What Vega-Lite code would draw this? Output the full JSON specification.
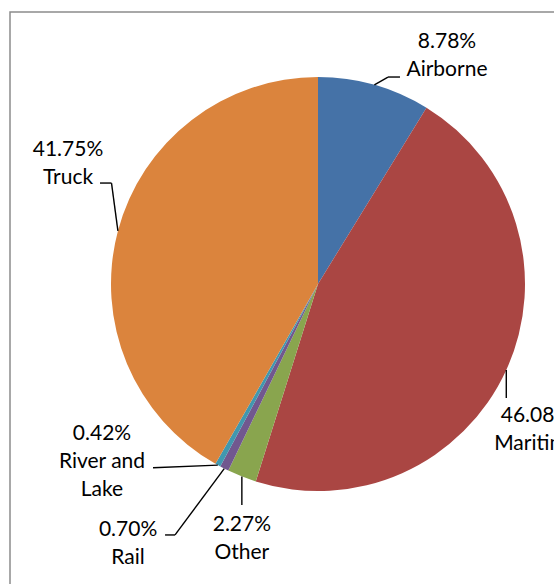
{
  "$schema": "https://vega.github.io/schema/vega-lite/v6.json",
  "width": 616,
  "height": 600,
  "autosize": {"type": "none"},
  "padding": {"left": 10, "top": 12, "right": 0, "bottom": 0},
  "background": "white",
  "config": {
    "view": {"stroke": "#8c8c8c", "strokeWidth": 1.5},
    "text": {"font": "Lato", "fontSize": 21, "lineHeight": 28, "color": "#000000", "align": "center", "baseline": "middle"},
    "rule": {"color": "#000000", "strokeWidth": 1.4}
  },
  "data": {
    "values": [
      {"mode": "Airborne", "share": 8.78},
      {"mode": "Maritime", "share": 46.08},
      {"mode": "Other", "share": 2.27},
      {"mode": "Rail", "share": 0.70},
      {"mode": "River and Lake", "share": 0.42},
      {"mode": "Truck", "share": 41.75}
    ]
  },
  "transform": [
    {"window": [{"op": "sum", "field": "share", "as": "cum"}], "sort": [{"field": "mode", "order": "ascending"}], "frame": [null, 0]},
    {"calculate": "(datum.cum - datum.share / 2) / 100 * 2 * PI", "as": "mid"},
    {"calculate": "207 * sin(datum.mid)", "as": "ex"},
    {"calculate": "207 * cos(datum.mid)", "as": "ey"},
    {"calculate": "format(datum.share / 100, '.2%')", "as": "pct"},
    {"calculate": "datum.mode == 'River and Lake' ? [datum.pct, 'River and', 'Lake'] : [datum.pct, datum.mode]", "as": "lbl"}
  ],
  "layer": [
    {
      "mark": {"type": "arc", "radius": 207},
      "encoding": {
        "x": {"datum": 0, "type": "quantitative", "scale": {"domain": [-308, 308], "nice": false, "zero": false}, "axis": null},
        "y": {"datum": 0, "type": "quantitative", "scale": {"domain": [-328, 272], "nice": false, "zero": false}, "axis": null},
        "theta": {"field": "share", "type": "quantitative", "stack": true},
        "color": {
          "field": "mode",
          "type": "nominal",
          "scale": {
            "domain": ["Airborne", "Maritime", "Other", "Rail", "River and Lake", "Truck"],
            "range": ["#4572A7", "#AA4643", "#89A54E", "#71588F", "#4198AF", "#DB843D"]
          },
          "legend": null
        },
        "order": {"field": "mode", "sort": "ascending"}
      }
    },
    {
      "transform": [{"filter": "datum.mode == 'Airborne'"}],
      "encoding": {
        "x": {"field": "ex", "type": "quantitative", "scale": {"domain": [-308, 308], "nice": false, "zero": false}, "axis": null},
        "y": {"field": "ey", "type": "quantitative", "scale": {"domain": [-328, 272], "nice": false, "zero": false}, "axis": null}
      },
      "layer": [
        {"mark": {"type": "text", "dx": 72.6, "dy": -43.3}, "encoding": {"text": {"field": "lbl"}}},
        {"mark": {"type": "rule", "x2Offset": 13.6, "y2Offset": -7.8}, "encoding": {"x2": {"field": "ex"}, "y2": {"field": "ey"}}},
        {"mark": {"type": "rule", "xOffset": 13.6, "yOffset": -7.8, "x2Offset": 25.6, "y2Offset": -7.8}, "encoding": {"x2": {"field": "ex"}, "y2": {"field": "ey"}}}
      ]
    },
    {
      "transform": [{"filter": "datum.mode == 'Maritime'"}],
      "encoding": {
        "x": {"field": "ex", "type": "quantitative", "scale": {"domain": [-308, 308], "nice": false, "zero": false}, "axis": null},
        "y": {"field": "ey", "type": "quantitative", "scale": {"domain": [-328, 272], "nice": false, "zero": false}, "axis": null}
      },
      "layer": [
        {"mark": {"type": "text", "dx": 29.7, "dy": 46}, "encoding": {"text": {"field": "lbl"}}},
        {"mark": {"type": "rule", "x2Offset": 0, "y2Offset": 28}, "encoding": {"x2": {"field": "ex"}, "y2": {"field": "ey"}}}
      ]
    },
    {
      "transform": [{"filter": "datum.mode == 'Other'"}],
      "encoding": {
        "x": {"field": "ex", "type": "quantitative", "scale": {"domain": [-308, 308], "nice": false, "zero": false}, "axis": null},
        "y": {"field": "ey", "type": "quantitative", "scale": {"domain": [-328, 272], "nice": false, "zero": false}, "axis": null}
      },
      "layer": [
        {"mark": {"type": "text", "dx": 0, "dy": 48.5}, "encoding": {"text": {"field": "lbl"}}},
        {"mark": {"type": "rule", "x2Offset": 0, "y2Offset": 28.5}, "encoding": {"x2": {"field": "ex"}, "y2": {"field": "ey"}}}
      ]
    },
    {
      "transform": [{"filter": "datum.mode == 'Rail'"}],
      "encoding": {
        "x": {"field": "ex", "type": "quantitative", "scale": {"domain": [-308, 308], "nice": false, "zero": false}, "axis": null},
        "y": {"field": "ey", "type": "quantitative", "scale": {"domain": [-328, 272], "nice": false, "zero": false}, "axis": null}
      },
      "layer": [
        {"mark": {"type": "text", "dx": -96.2, "dy": 61.4}, "encoding": {"text": {"field": "lbl"}}},
        {"mark": {"type": "rule", "x2Offset": -49.2, "y2Offset": 66.4}, "encoding": {"x2": {"field": "ex"}, "y2": {"field": "ey"}}},
        {"mark": {"type": "rule", "xOffset": -49.2, "yOffset": 66.4, "x2Offset": -59.2, "y2Offset": 66.4}, "encoding": {"x2": {"field": "ex"}, "y2": {"field": "ey"}}}
      ]
    },
    {
      "transform": [{"filter": "datum.mode == 'River and Lake'"}],
      "encoding": {
        "x": {"field": "ex", "type": "quantitative", "scale": {"domain": [-308, 308], "nice": false, "zero": false}, "axis": null},
        "y": {"field": "ey", "type": "quantitative", "scale": {"domain": [-328, 272], "nice": false, "zero": false}, "axis": null}
      },
      "layer": [
        {"mark": {"type": "text", "dx": -115.8, "dy": -31.1}, "encoding": {"text": {"field": "lbl"}}},
        {"mark": {"type": "rule", "x2Offset": -64.8, "y2Offset": 2.6}, "encoding": {"x2": {"field": "ex"}, "y2": {"field": "ey"}}}
      ]
    },
    {
      "transform": [{"filter": "datum.mode == 'Truck'"}],
      "encoding": {
        "x": {"field": "ex", "type": "quantitative", "scale": {"domain": [-308, 308], "nice": false, "zero": false}, "axis": null},
        "y": {"field": "ey", "type": "quantitative", "scale": {"domain": [-328, 272], "nice": false, "zero": false}, "axis": null}
      },
      "layer": [
        {"mark": {"type": "text", "dx": -49.9, "dy": -80.5}, "encoding": {"text": {"field": "lbl"}}},
        {"mark": {"type": "rule", "x2Offset": -6.4, "y2Offset": -47.9}, "encoding": {"x2": {"field": "ex"}, "y2": {"field": "ey"}}},
        {"mark": {"type": "rule", "xOffset": -6.4, "yOffset": -47.9, "x2Offset": -17.9, "y2Offset": -47.9}, "encoding": {"x2": {"field": "ex"}, "y2": {"field": "ey"}}}
      ]
    }
  ]
}
